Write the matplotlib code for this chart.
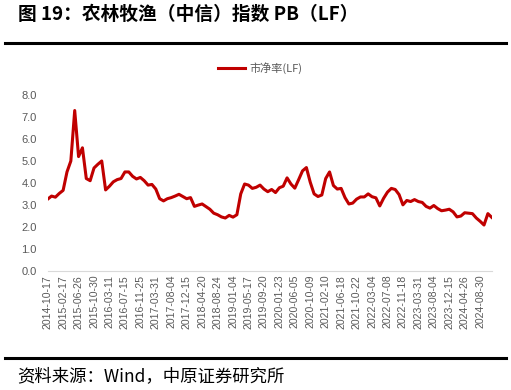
import numpy as np
import matplotlib
matplotlib.use("Agg")
import matplotlib.pyplot as plt

plt.rcParams['font.family'] = ['Noto Sans CJK SC', 'DejaVu Sans']

# tick labels, one every 4 data points
tick_labels = ["2014-10-17", "2015-02-17", "2015-06-26", "2015-10-30", "2016-03-11",
               "2016-07-15", "2016-11-25", "2017-03-31", "2017-08-04", "2017-12-15",
               "2018-04-20", "2018-08-24", "2019-01-04", "2019-05-17", "2019-09-20",
               "2020-01-23", "2020-06-05", "2020-10-09", "2021-02-10", "2021-06-18",
               "2021-10-22", "2022-03-04", "2022-07-08", "2022-11-18", "2023-03-31",
               "2023-08-04", "2023-12-15", "2024-04-26", "2024-08-30"]
pts_per_tick = 4

# PB (LF)
pb = [3.26, 3.40, 3.35, 3.52, 3.66, 4.50, 5.00, 7.30, 5.20, 5.60,
      4.20, 4.10, 4.68, 4.85, 5.00, 3.68, 3.85, 4.05, 4.15, 4.20,
      4.50, 4.50, 4.30, 4.18, 4.25, 4.10, 3.90, 3.93, 3.72, 3.28,
      3.18, 3.28, 3.33, 3.40, 3.48, 3.38, 3.28, 3.33, 2.93, 2.99,
      3.04, 2.92, 2.80, 2.62, 2.55, 2.45, 2.40, 2.52, 2.44, 2.55,
      3.50, 3.95, 3.90, 3.75, 3.80, 3.90, 3.72, 3.60, 3.70, 3.56,
      3.78, 3.85, 4.23, 3.95, 3.76, 4.15, 4.55, 4.70, 4.03, 3.50,
      3.38, 3.45, 4.20, 4.50, 3.88, 3.72, 3.75, 3.33, 3.04, 3.08,
      3.26, 3.36, 3.36, 3.50, 3.37, 3.32, 2.95, 3.30, 3.58, 3.75,
      3.70, 3.47, 3.00, 3.20, 3.15, 3.24, 3.15, 3.11, 2.93, 2.85,
      2.97, 2.83, 2.73, 2.76, 2.80, 2.68, 2.45, 2.49, 2.64, 2.62,
      2.60, 2.40, 2.25, 2.08, 2.60, 2.43]

x = np.arange(len(pb))
grey = '#595959'

fig = plt.figure(figsize=(5.11, 3.90), dpi=100)
ax = fig.add_axes([0.0933, 0.306, 0.869, 0.450])

ax.plot(x, pb, color='#C00000', lw=2.2, label='市净率(LF)')
ax.set_ylim(0, 8)
ax.set_yticks(np.arange(0, 8.1, 1.0))
ax.set_yticklabels([f"{v:.1f}" for v in np.arange(0, 8.1, 1.0)],
                   fontsize=8, color=grey, family='Liberation Sans')
ax.set_xlim(0, len(pb) - 1)
ax.set_xticks(np.arange(len(tick_labels)) * pts_per_tick)
ax.set_xticklabels(tick_labels, rotation=90, fontsize=7.6, color=grey,
                   family='Liberation Sans')
ax.tick_params(axis='both', length=0, pad=3)
ax.tick_params(axis='y', pad=8)
for s in ['top', 'right', 'left']:
    ax.spines[s].set_visible(False)
ax.spines['bottom'].set_color('#D9D9D9')

leg = ax.legend(loc='center', bbox_to_anchor=(260 / 511, 1 - 68 / 390),
                bbox_transform=fig.transFigure, frameon=False,
                fontsize=8, handlelength=2.4, handletextpad=0.4)
for t in leg.get_texts():
    t.set_color(grey)

fig.text(0.036, 0.962, '图 19：农林牧渔（中信）指数 PB（LF）', fontsize=13.5,
         fontweight='bold', va='center', ha='left')
fig.add_artist(plt.Line2D([0.01, 0.99], [0.890, 0.890], color='black', lw=2.2))
fig.add_artist(plt.Line2D([0.01, 0.99], [0.082, 0.082], color='black', lw=2.2))
fig.text(0.033, 0.035, '资料来源：Wind，中原证券研究所', fontsize=12.5,
         va='center', ha='left')

fig.savefig('out.png', dpi=100)
